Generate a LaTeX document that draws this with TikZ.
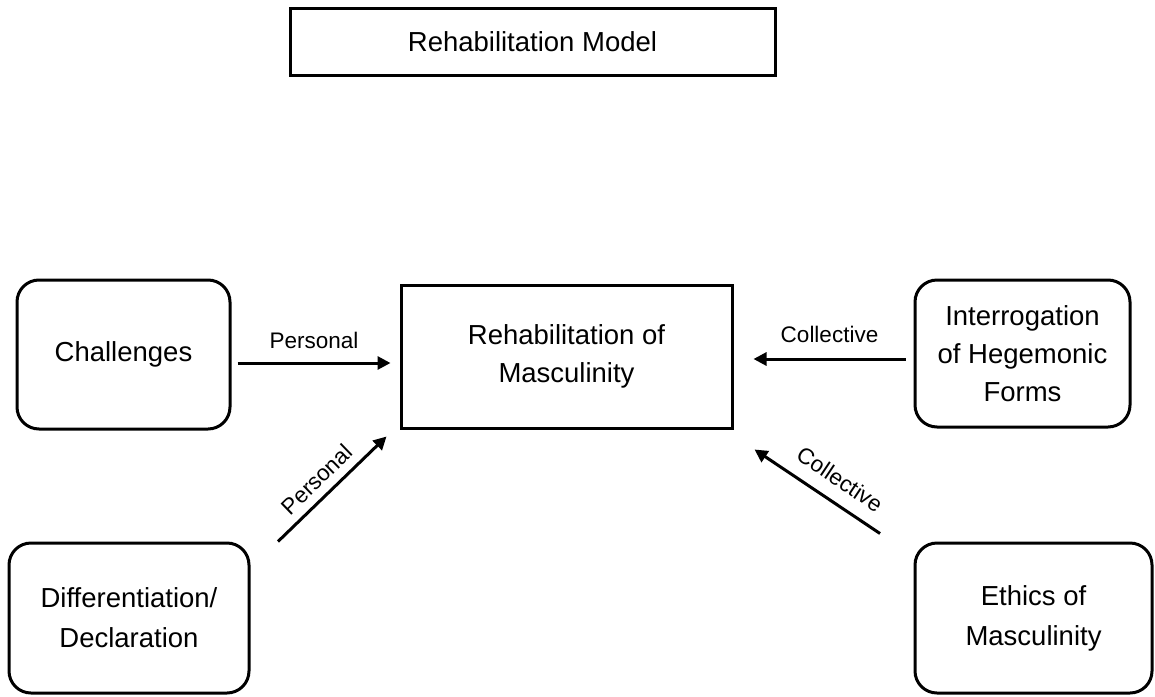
\documentclass[tikz,border=0pt]{standalone}
\usepackage{fontspec}
\setmainfont{Liberation Sans}
\usetikzlibrary{arrows.meta,calc}
\begin{document}
\begin{tikzpicture}[x=1pt,y=-1pt,
  box/.style={draw,line width=3pt,align=center,inner sep=0pt,
    font=\fontsize{27.5}{38}\selectfont},
  rbox/.style={box,rounded corners=22pt},
  arr/.style={line width=3pt,-{Triangle[length=13pt,width=13pt]}},
  lbl/.style={font=\fontsize{22.5}{27}\selectfont,inner sep=0pt}]
\useasboundingbox (0,0) rectangle (1155,696);
\node[box,minimum width=485pt,minimum height=67pt] (title) at (532.5,41.5) {Rehabilitation Model};
\node[box,minimum width=331pt,minimum height=143pt] (cm) at (566.5,356.5) {Rehabilitation of\\Masculinity};
\node[rbox,minimum width=213pt,minimum height=149pt] (ch) at (123.5,354.5) {Challenges};
\node[rbox,minimum width=215pt,minimum height=147pt] (ih) at (1022.5,353.5) {Interrogation\\of Hegemonic\\Forms};
\node[rbox,minimum width=240pt,minimum height=150pt] (dd) at (129,618) {Differentiation/\\[2pt]Declaration};
\node[rbox,minimum width=237pt,minimum height=150pt] (em) at (1033.5,618) {Ethics of\\[2pt]Masculinity};
% arrows
\draw[arr] ($(ch.east)+(6,8.5)$) -- node[lbl,above=13pt] {Personal} ($(cm.west)+(-9,6.5)$);
\draw[arr] ($(ih.west)+(-8,5.5)$) -- node[lbl,above=15pt] {Collective} ($(cm.east)+(20,2.5)$);
\draw[arr] ($(dd.north)+(149,0)$) -- node[lbl,sloped,above=8pt,pos=0.47] {Personal} ($(cm.south west)+(-13,7)$);
\draw[arr] ($(em.north)+(-153.5,-8)$) -- node[lbl,sloped,above=13pt,pos=0.42] {Collective} ($(cm.south east)+(21,20)$);
\end{tikzpicture}
\end{document}
